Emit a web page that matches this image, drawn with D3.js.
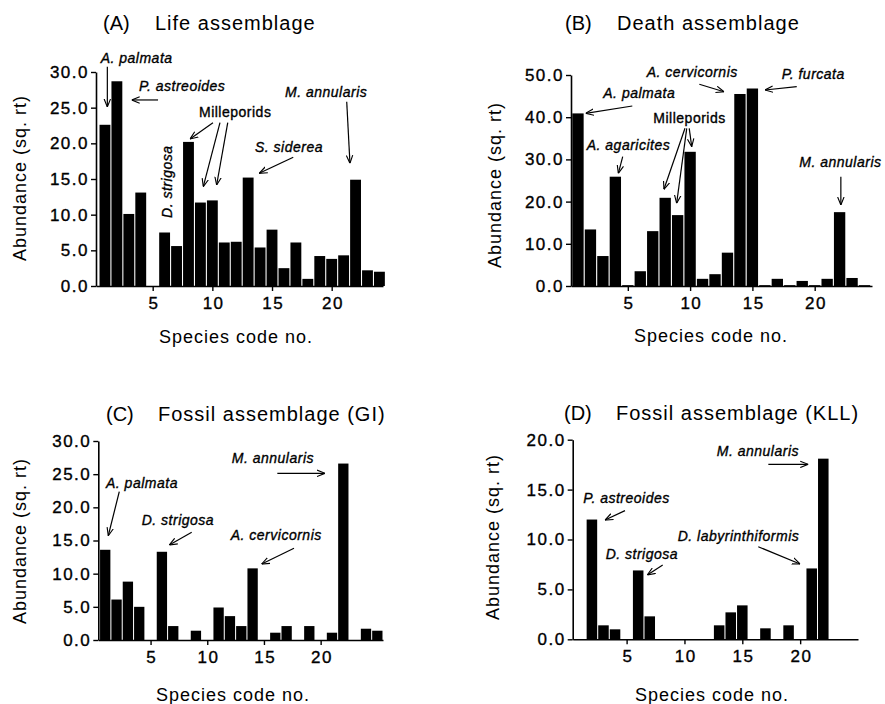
<!DOCTYPE html>
<html><head><meta charset="utf-8">
<script src="https://cdn.jsdelivr.net/npm/d3@7"></script>
<style>
body{margin:0;background:#fff}
text{font-family:"Liberation Sans",Arial,Helvetica,sans-serif;fill:#000}
</style>
</head><body>
<svg id="c" width="885" height="704"></svg>
<script>
// ---------- DATA ----------
const codesLife = [1,2,3,4,5,6,7,8,9,10,11,12,13,14,15,16,17,18,19,20,21,22,23,24];
const lifeValues = [22.6,28.7,10.1,13.1,0,7.5,5.6,20.2,11.7,12.0,6.1,6.2,15.2,5.4,7.9,2.5,6.1,1.0,4.2,3.8,4.3,14.9,2.2,2.0];

const codesDeath = [1,2,3,4,5,6,7,8,9,10,11,12,13,14,15,16,17,18,19,20,21,22,23,24];
const deathValues = [40.9,13.4,7.1,25.9,0.2,3.5,13.0,20.9,16.8,31.8,1.7,2.8,7.9,45.5,46.8,0.2,1.7,0.2,1.2,0.2,1.7,17.5,1.9,0.2];

const codesGI = [1,2,3,4,5,6,7,8,9,10,11,12,13,14,15,16,17,18,19,20,21,22,23,24,25];
const giValues = [13.6,6.1,8.8,5.0,0,13.3,2.1,0,1.4,0,4.9,3.6,2.1,10.8,0,1.1,2.1,0,2.1,0,1.1,26.6,0,1.7,1.4];

const codesKLL = [1,2,3,4,5,6,7,8,9,10,11,12,13,14,15,16,17,18,19,20,21,22];
const kllValues = [0,12.0,1.4,1.0,0,6.9,2.3,0,0,0,0,0,1.4,2.7,3.4,0,1.1,0,1.4,0,7.1,18.1];

const xTickValues = [5,10,15,20];
const yTicks30 = [0,5,10,15,20,25,30];
const yTicks50 = [0,10,20,30,40,50];
const yTicks20 = [0,5,10,15,20];

const panelLetters = ["(A)","(B)","(C)","(D)"];
const panelTitles = ["Life assemblage","Death assemblage","Fossil assemblage (GI)","Fossil assemblage (KLL)"];
const yAxisTitle = "Abundance (sq. rt)";
const xAxisTitle = "Species code no.";

// annotations in data coordinates (species code, abundance)
const annotLife = [
  {t:"A. palmata", x:0.64, y:31.3, arrows:[[1.2,30.74,1.2,25.1]]},
  {t:"P. astreoides", x:3.85, y:27.38, arrows:[[5.45,26.08,3.24,26.08]]},
  {t:"Milleporids", x:8.88, y:23.73, roman:true, arrows:[[10.05,22.89,8.13,20.61],[10.64,22.89,9.24,13.92],[11.29,22.89,10.36,14.16]]},
  {t:"D. strigosa", x:6.62, y:14.62, rotate:true, arrows:[]},
  {t:"S. siderea", x:13.57, y:18.83, arrows:[[16.78,18.04,13.93,15.8]]},
  {t:"M. annularis", x:16.09, y:26.45, arrows:[[21.26,25.84,21.53,17.2]]}
];
const annotDeath = [
  {t:"A. palmata", x:3.03, y:44.48, arrows:[[5.36,42.65,1.62,40.92]]},
  {t:"A. cervicornis", x:6.52, y:49.6, arrows:[[10.74,47.8,12.72,46.04]]},
  {t:"P. furcata", x:17.35, y:49.05, arrows:[[18.56,47.23,16.01,46.45]]},
  {t:"Milleporids", x:7.05, y:38.7, roman:true, arrows:[[9.59,37.37,7.9,22.91],[9.73,37.37,8.92,19.6],[9.93,37.37,10.13,33.0]]},
  {t:"A. agaricites", x:1.7, y:32.23, arrows:[[4.59,30.64,4.24,26.7]]},
  {t:"M. annularis", x:18.76, y:28.27, arrows:[[22.1,25.9,22.1,19.19]]}
];
const annotGI = [
  {t:"A. palmata", x:1.07, y:22.87, arrows:[[2.24,22.36,1.27,15.72]]},
  {t:"D. strigosa", x:4.22, y:17.34, arrows:[[8.63,16.24,6.65,14.32]]},
  {t:"A. cervicornis", x:12.07, y:15.08, arrows:[[17.65,13.82,14.8,11.46]]},
  {t:"M. annularis", x:12.16, y:26.64, arrows:[[16.18,25.13,20.38,25.13]]}
];
const annotKLL = [
  {t:"P. astreoides", x:1.26, y:13.63, arrows:[[4.86,12.89,3.13,11.95]]},
  {t:"D. strigosa", x:3.19, y:8.05, arrows:[[8.12,7.44,6.79,6.44]]},
  {t:"D. labyrinthiformis", x:9.42, y:9.85, arrows:[[16.38,9.28,19.99,7.55]]},
  {t:"M. annularis", x:12.79, y:18.4, arrows:[[17.25,17.53,20.7,17.53]]}
];

// ---------- LAYOUT ----------
const panels = [
  {codes:codesLife, values:lifeValues, xDomain:[0.25,24.3], xRange:[96,383], yDomain:[0,30], yRange:[286,72], yTicks:yTicks30,
   titleX:103, titleY:30, yTitleX:26, yTitleY:178, xTitleX:236, xTitleY:343, annot:annotLife},
  {codes:codesDeath, values:deathValues, xDomain:[0.44,24.6], xRange:[571,872], yDomain:[0,50], yRange:[286,75], yTicks:yTicks50,
   titleX:565, titleY:30, yTitleX:501, yTitleY:185, xTitleX:711, xTitleY:342, annot:annotDeath},
  {codes:codesGI, values:giValues, xDomain:[0.39,25.5], xRange:[98.3,383], yDomain:[0,30], yRange:[640,441], yTicks:yTicks30,
   titleX:106, titleY:421, yTitleX:26, yTitleY:541, xTitleX:233, xTitleY:701, annot:annotGI},
  {codes:codesKLL, values:kllValues, xDomain:[0.34,25], xRange:[572.7,858], yDomain:[0,20], yRange:[639.3,439.7], yTicks:yTicks20,
   titleX:564, titleY:420, yTitleX:499, yTitleY:537, xTitleX:712, xTitleY:701, annot:annotKLL}
];

const svg = d3.select("#c");
svg.append("rect").attr("width",885).attr("height",704).attr("fill","#fff");
const defs = svg.append("defs");
defs.append("marker").attr("id","ah").attr("viewBox","0 0 10 10").attr("refX",10).attr("refY",5)
  .attr("markerWidth",8).attr("markerHeight",8).attr("markerUnits","userSpaceOnUse").attr("orient","auto")
  .append("path").attr("d","M0,1 L10,5 L0,9").attr("fill","none").attr("stroke","#000").attr("stroke-width",1.4);

panels.forEach((p,pi)=>{
  const g = svg.append("g");
  const x = d3.scaleLinear().domain(p.xDomain).range(p.xRange);
  const y = d3.scaleLinear().domain(p.yDomain).range(p.yRange);
  const bw = (x(1)-x(0))*0.91;
  const rows = p.codes.map((c,i)=>({c, v:p.values[i]}));

  g.append("g").selectAll("rect").data(rows).join("rect")
    .attr("x", d=>x(d.c)-bw/2).attr("width", bw)
    .attr("y", d=>y(d.v)).attr("height", d=>y(0)-y(d.v)).attr("fill","#000");

  const xa = g.append("g").attr("transform",`translate(0,${y(0)})`)
    .call(d3.axisBottom(x).tickValues(xTickValues).tickSize(5).tickSizeOuter(0).tickPadding(6).tickFormat(d3.format("d")));
  const ya = g.append("g").attr("transform",`translate(${p.xRange[0]},0)`)
    .call(d3.axisLeft(y).tickValues(p.yTicks).tickSize(5).tickSizeOuter(0).tickPadding(2).tickFormat(d3.format(".1f")));
  [xa,ya].forEach(a=>{
    a.attr("font-family",null).attr("font-size",null);
    a.select(".domain").attr("stroke","#000").attr("stroke-width",1.6);
    a.selectAll(".tick line").attr("stroke","#000").attr("stroke-width",1.4);
    a.selectAll(".tick text").style("font-size","17px").style("letter-spacing","1.5px")
      .attr("fill","#000").attr("stroke","#000").attr("stroke-width",0.35);
  });
  xa.selectAll(".tick text").attr("dy","0.71em").attr("dx","0.75");

  // titles
  g.append("text").attr("x",p.titleX).attr("y",p.titleY).style("font-size","20px").text(panelLetters[pi]);
  g.append("text").attr("x",p.titleX+52).attr("y",p.titleY).style("font-size","20px").style("letter-spacing","1px").text(panelTitles[pi]);

  g.append("text").attr("transform",`translate(${p.yTitleX},${p.yTitleY}) rotate(-90)`).attr("text-anchor","middle")
    .style("font-size","18px").style("letter-spacing","1px").text(yAxisTitle);
  g.append("text").attr("x",p.xTitleX).attr("y",p.xTitleY).attr("text-anchor","middle")
    .style("font-size","18px").style("letter-spacing","1px").text(xAxisTitle);

  // annotations
  p.annot.forEach(a=>{
    const t = g.append("text").style("font-size","14px").style("letter-spacing","0.5px")
      .attr("stroke","#000").attr("stroke-width",0.35)
      .style("font-style", a.roman ? "normal" : "italic").text(a.t);
    if(a.rotate){
      t.attr("transform",`translate(${x(a.x)},${y(a.y)}) rotate(-90)`).attr("text-anchor","middle");
    } else {
      t.attr("x",x(a.x)).attr("y",y(a.y));
    }
    a.arrows.forEach(ar=>{
      g.append("line").attr("x1",x(ar[0])).attr("y1",y(ar[1])).attr("x2",x(ar[2])).attr("y2",y(ar[3]))
        .attr("stroke","#000").attr("stroke-width",1.2).attr("marker-end","url(#ah)");
    });
  });
});
</script>
</body></html>
